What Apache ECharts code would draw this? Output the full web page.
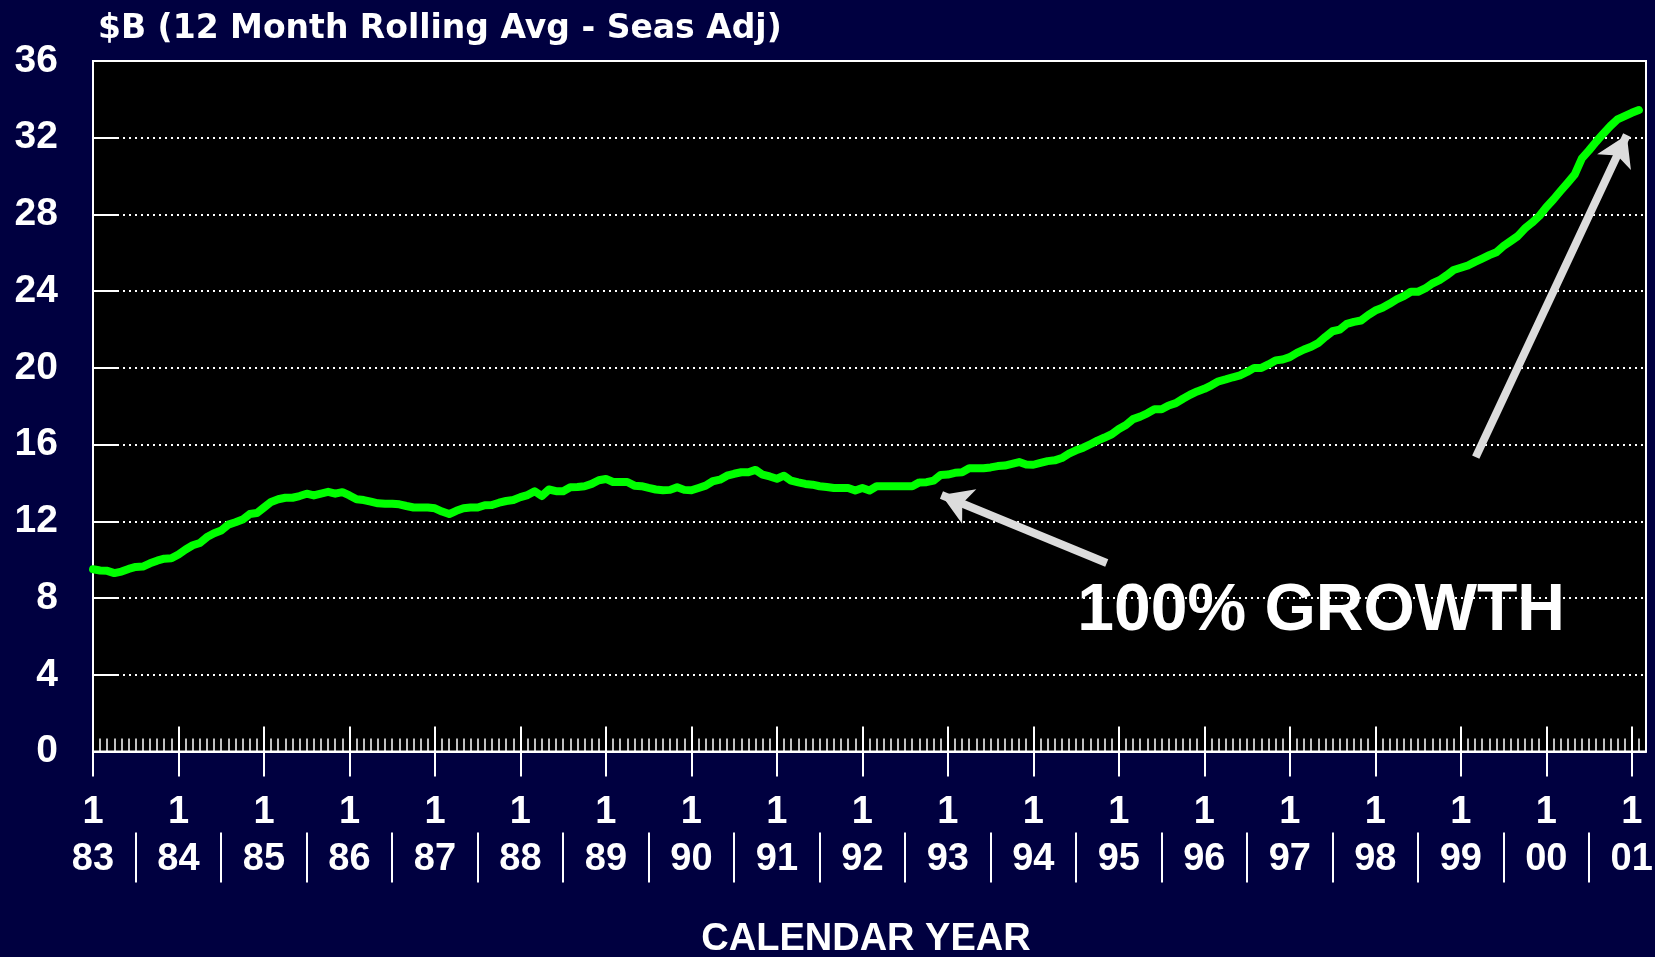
<!DOCTYPE html>
<html>
<head>
<meta charset="utf-8">
<title>$B 12 Month Rolling Avg</title>
<script src="https://cdn.jsdelivr.net/npm/echarts@6/dist/echarts.min.js"></script>
<style>
html, body { margin: 0; padding: 0; background: #000040; }
#chart { width: 1655px; height: 957px; }
</style>
</head>
<body>
<div id="chart"></div>
<script>
// year labels under each January tick
var yearLabels = ['83', '84', '85', '86', '87', '88', '89', '90', '91', '92',
    '93', '94', '95', '96', '97', '98', '99', '00', '01'];

// $B, 12 month rolling avg, one value per month from Jan 83
var monthlyAvg = [
    9.50, 9.44, 9.42, 9.30, 9.38, 9.52, 9.62, 9.64, 9.81, 9.95, 10.05, 10.07,          // 83
    10.27, 10.53, 10.75, 10.87, 11.18, 11.38, 11.52, 11.83, 11.95, 12.09, 12.38, 12.43, // 84
    12.72, 13.01, 13.15, 13.23, 13.23, 13.32, 13.44, 13.35, 13.45, 13.54, 13.44, 13.52, // 85
    13.35, 13.15, 13.11, 13.03, 12.94, 12.92, 12.92, 12.89, 12.80, 12.72, 12.72, 12.72, // 86
    12.68, 12.51, 12.38, 12.55, 12.68, 12.72, 12.72, 12.84, 12.85, 12.97, 13.06, 13.11, // 87
    13.26, 13.37, 13.57, 13.32, 13.66, 13.57, 13.57, 13.78, 13.79, 13.83, 13.95, 14.14, // 88
    14.21, 14.05, 14.05, 14.05, 13.86, 13.83, 13.74, 13.66, 13.62, 13.64, 13.78, 13.64, // 89
    13.62, 13.74, 13.86, 14.09, 14.17, 14.38, 14.48, 14.56, 14.56, 14.68, 14.43, 14.34, // 90
    14.22, 14.38, 14.12, 14.03, 13.95, 13.91, 13.83, 13.79, 13.74, 13.74, 13.74, 13.61, // 91
    13.74, 13.61, 13.83, 13.83, 13.83, 13.83, 13.83, 13.83, 14.03, 14.04, 14.12, 14.42, // 92
    14.44, 14.53, 14.56, 14.77, 14.77, 14.77, 14.81, 14.88, 14.91, 15.00, 15.09, 14.96, // 93
    14.95, 15.05, 15.14, 15.18, 15.30, 15.53, 15.70, 15.84, 16.02, 16.21, 16.37, 16.54, // 94
    16.81, 17.02, 17.33, 17.46, 17.63, 17.84, 17.84, 18.04, 18.16, 18.39, 18.60, 18.77, // 95
    18.91, 19.09, 19.30, 19.40, 19.51, 19.61, 19.79, 20.00, 20.00, 20.18, 20.39, 20.44, // 96
    20.56, 20.78, 20.96, 21.10, 21.30, 21.62, 21.91, 22.00, 22.30, 22.40, 22.47, 22.75, // 97
    22.99, 23.13, 23.34, 23.57, 23.74, 23.97, 23.97, 24.14, 24.40, 24.57, 24.82, 25.10, // 98
    25.22, 25.34, 25.53, 25.70, 25.88, 26.03, 26.35, 26.61, 26.87, 27.27, 27.57, 27.91, // 99
    28.38, 28.78, 29.22, 29.65, 30.09, 30.92, 31.34, 31.79, 32.21, 32.61, 32.96, 33.13, // 00
    33.30, 33.44                                                                        // 01
];

// annotation arrows, [month index, $B]
var arrowFrom = [[142.3, 9.83], [194.1, 15.35]];
var arrowTo = [[119.1, 13.37], [215.3, 32.14]];
var growthLabelAt = [172.4, 7.26];

var axisMonths = 219; // Jan 83 .. Mar 01 (right edge)
var slots = [];
for (var i = 0; i < axisMonths; i++) {
    slots.push(String(i));
}

var font = '"Liberation Sans", Arial, Helvetica, sans-serif';
var white = '#ffffff';

function isYearStart(idx) { return idx % 12 === 0; }
function isMidYear(idx) { return idx % 12 === 6; }

function tickAxis(extra) {
    var base = {
        type: 'category',
        data: slots,
        boundaryGap: false,
        position: 'bottom',
        axisLine: { show: false },
        axisTick: { show: false },
        axisLabel: { show: false },
        splitLine: { show: false }
    };
    for (var k in extra) base[k] = extra[k];
    return base;
}

var chartDom = document.getElementById('chart');
var myChart = echarts.init(chartDom, null, { renderer: 'canvas' });
var option;

option = {
    backgroundColor: '#000040',
    animation: false,
    title: {
        text: '$B (12 Month Rolling Avg - Seas Adj)',
        left: 93,
        top: 8,
        textStyle: {
            color: white,
            fontFamily: '"DejaVu Sans", sans-serif',
            fontWeight: 'bold',
            fontSize: 33
        }
    },
    grid: {
        left: 93,
        right: 9,
        top: 61,
        bottom: 205.5,
        show: true,
        backgroundColor: '#000000',
        borderColor: white,
        borderWidth: 2,
        containLabel: false,
        outerBoundsMode: 'none'
    },
    xAxis: [
        // monthly minor ticks + axis line
        tickAxis({
            axisLine: { show: true, lineStyle: { color: white, width: 2 } },
            axisTick: { show: true, inside: true, length: 13, interval: 0, lineStyle: { color: white, width: 1.5 } }
        }),
        // January ticks inside + labels
        tickAxis({
            axisTick: { show: true, inside: true, length: 25, interval: isYearStart, lineStyle: { color: white, width: 2 } },
            axisLabel: {
                show: true,
                interval: isYearStart,
                formatter: function (value, idx) {
                    return '1\n' + yearLabels[idx / 12];
                },
                color: white,
                fontFamily: font,
                fontWeight: 'bold',
                fontSize: 38,
                lineHeight: 47,
                margin: 38
            },
            name: 'CALENDAR YEAR',
            nameLocation: 'middle',
            nameGap: 169,
            nameTextStyle: {
                color: white,
                fontFamily: font,
                fontWeight: 'bold',
                fontSize: 38,
                padding: [0, 7, 0, 0]
            }
        }),
        // January ticks outside
        tickAxis({
            axisTick: { show: true, inside: false, length: 25, interval: isYearStart, lineStyle: { color: white, width: 2 } }
        }),
        // separators between year labels
        tickAxis({
            offset: 81,
            axisTick: { show: true, inside: false, length: 50, interval: isMidYear, lineStyle: { color: white, width: 2 } }
        }),
        // value axis carrying the series
        {
            type: 'value',
            min: 0,
            max: axisMonths - 1,
            show: false,
            position: 'bottom'
        }
    ],
    yAxis: {
        type: 'value',
        min: 0,
        max: 36,
        interval: 4,
        axisLine: { show: true, lineStyle: { color: white, width: 2 } },
        axisTick: { show: true, inside: true, length: 24, lineStyle: { color: white, width: 2 } },
        axisLabel: {
            color: white,
            fontFamily: font,
            fontWeight: 'bold',
            fontSize: 39,
            margin: 35
        },
        splitLine: {
            show: true,
            lineStyle: { color: white, width: 2, type: [2, 4] }
        }
    },
    series: [
        {
            type: 'line',
            xAxisIndex: 4,
            data: monthlyAvg.map(function (v, i) { return [i, v]; }),
            showSymbol: false,
            silent: true,
            lineStyle: { color: '#00ff00', width: 8, cap: 'round', join: 'round' },
            markLine: {
                silent: true,
                symbol: ['none', 'arrow'],
                symbolSize: [28, 30],
                label: { show: false },
                itemStyle: { color: '#dcdcdc' },
                lineStyle: { color: '#dcdcdc', width: 8, type: 'solid' },
                emphasis: { disabled: true },
                data: arrowFrom.map(function (p, i) {
                    return [{ coord: p }, { coord: arrowTo[i] }];
                })
            },
            markPoint: {
                silent: true,
                symbol: 'circle',
                symbolSize: 0,
                itemStyle: { color: 'rgba(0,0,0,0)' },
                label: {
                    show: true,
                    position: 'inside',
                    formatter: '100% GROWTH',
                    color: white,
                    fontFamily: font,
                    fontWeight: 'bold',
                    fontSize: 66
                },
                data: [{ coord: growthLabelAt }]
            }
        }
    ]
};

option && myChart.setOption(option);
window.addEventListener('resize', function () {
    myChart.resize();
});
</script>
</body>
</html>
